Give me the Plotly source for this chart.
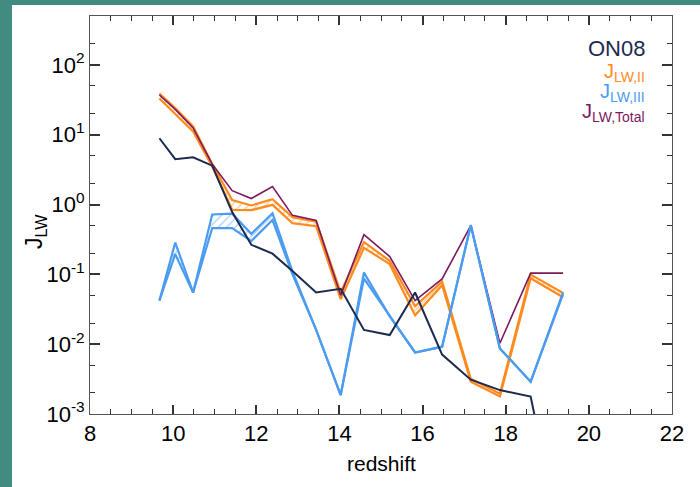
import plotly.graph_objects as go

# ---- data ----
redshift = [9.67, 10.05, 10.48, 10.94, 11.42, 11.88, 12.39, 12.87, 13.44, 14.03,
            14.59, 15.21, 15.82, 16.47, 17.16, 17.86, 18.60, 19.38]

on08 = [8.9, 4.46, 4.75, 3.6, 0.78, 0.265, 0.198, 0.112, 0.055, 0.062,
        0.016, 0.0135, 0.055, 0.0071, 0.0031, 0.0022, 0.00178, 0.00001]

jlw2_hi = [39, 24, 13.1, 3.8, 1.16, 0.97, 1.19, 0.66, 0.57, 0.055,
           0.29, 0.156, 0.035, 0.079, 0.0032, 0.00195, 0.099, 0.054]
jlw2_lo = [33, 20, 11.1, 3.5, 0.84, 0.83, 0.99, 0.54, 0.49, 0.044,
           0.24, 0.14, 0.026, 0.07, 0.0029, 0.00178, 0.088, 0.047]

jlw3_hi = [0.042, 0.285, 0.055, 0.72, 0.74, 0.38, 0.75, 0.11, 0.016, 0.00187,
           0.106, 0.025, 0.0076, 0.0092, 0.51, 0.0087, 0.0029, 0.055]
jlw3_lo = [0.042, 0.195, 0.055, 0.46, 0.46, 0.30, 0.60, 0.10, 0.016, 0.00187,
           0.087, 0.025, 0.0076, 0.0092, 0.50, 0.0087, 0.0029, 0.052]

jlw_total = [37, 23, 12.5, 3.8, 1.58, 1.22, 1.81, 0.70, 0.59, 0.05,
             0.37, 0.18, 0.042, 0.086, 0.5, 0.0103, 0.104, 0.104]

x_range = [8, 22]
y_range_log = [-3, 2.70]
y_tick_vals = [1e-3, 1e-2, 1e-1, 1e0, 1e1, 1e2]
y_tick_text = ["10<sup>-3</sup>", "10<sup>-2</sup>", "10<sup>-1</sup>",
               "10<sup>0</sup>", "10<sup>1</sup>", "10<sup>2</sup>"]

# ---- style ----
ORANGE = "#ff8a1e"
BLUE = "#4b9cf0"
NAVY = "#1b2a4e"
PURPLE = "#7c1a5e"
TEAL = "#428b80"
FONT = "Liberation Sans, Arial, sans-serif"
AXC = "#333"

fig = go.Figure()

def band(hi, lo, color):
    fig.add_trace(go.Scatter(x=redshift, y=hi, mode="lines",
                             line=dict(color=color, width=2.2), showlegend=False,
                             hoverinfo="skip"))
    fig.add_trace(go.Scatter(x=redshift, y=lo, mode="lines",
                             line=dict(color=color, width=2.2), showlegend=False,
                             fill="tonexty", fillcolor="rgba(0,0,0,0)",
                             fillpattern=dict(shape="/", fgcolor=color,
                                              bgcolor="rgba(0,0,0,0)",
                                              size=6, solidity=0.2),
                             hoverinfo="skip"))

band(jlw2_hi, jlw2_lo, ORANGE)
fig.add_trace(go.Scatter(x=redshift, y=jlw_total, mode="lines",
                         line=dict(color=PURPLE, width=1.6), showlegend=False))
band(jlw3_hi, jlw3_lo, BLUE)
fig.add_trace(go.Scatter(x=redshift, y=on08, mode="lines",
                         line=dict(color=NAVY, width=2), showlegend=False))

# teal background strips (left and top edges of the slide), outside the plot area
fig.add_shape(type="rect", xref="paper", yref="paper",
              x0=-0.3, x1=(12 - 90) / 582, y0=-0.3, y1=1.2,
              fillcolor=TEAL, line=dict(width=0), layer="above")
fig.add_shape(type="rect", xref="paper", yref="paper",
              x0=-0.3, x1=1.2, y0=(414 - 5) / 398, y1=1.2,
              fillcolor=TEAL, line=dict(width=0), layer="above")

axis_common = dict(showline=True, linecolor="#555", linewidth=1, mirror="ticks",
                   ticks="inside", tickcolor=AXC, tickwidth=1.5,
                   showgrid=False, zeroline=False,
                   tickfont=dict(family=FONT, size=22, color="black"))

fig.update_xaxes(range=x_range, dtick=2, tick0=8, ticklen=9,
                 minor=dict(dtick=0.5, ticks="inside", ticklen=5, tickcolor=AXC,
                            tickwidth=1.2),
                 **axis_common)
fig.update_yaxes(type="log", range=y_range_log, tickmode="array",
                 tickvals=y_tick_vals, ticktext=y_tick_text, ticklen=10,
                 minor=dict(ticks="inside", ticklen=5, tickcolor=AXC, tickwidth=1.2),
                 **axis_common)

ann = []
ann.append(dict(text="redshift", xref="paper", yref="paper", x=0.5, y=(414 - 463) / 398,
                showarrow=False, font=dict(family=FONT, size=21, color="black"),
                xanchor="center", yanchor="middle"))
ann.append(dict(text="J<sub>LW</sub>", xref="paper", yref="paper",
                x=(35 - 90) / 582, y=(414 - 232) / 398, textangle=-90,
                showarrow=False, font=dict(family=FONT, size=23, color="black"),
                xanchor="center", yanchor="middle"))
legend_items = [("ON08", NAVY, 22, 48), ("J<sub>LW,II</sub>", ORANGE, 20, 72),
                ("J<sub>LW,III</sub>", BLUE, 20, 92), ("J<sub>LW,Total</sub>", PURPLE, 20, 112)]
for txt, col, sz, yc in legend_items:
    ann.append(dict(text=txt, xref="paper", yref="paper", x=(647 - 90) / 582,
                    y=(414 - yc) / 398, showarrow=False,
                    font=dict(family=FONT, size=sz, color=col),
                    xanchor="right", yanchor="middle"))

fig.update_layout(width=700, height=487,
                  margin=dict(l=90, r=28, t=16, b=73),
                  paper_bgcolor="white", plot_bgcolor="white",
                  annotations=ann, showlegend=False,
                  font=dict(family=FONT))

fig.write_html("out.html")
